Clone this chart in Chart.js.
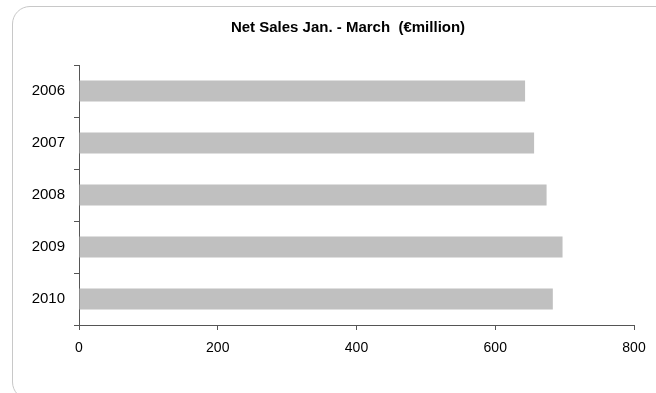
<!DOCTYPE html>
<html>
<head>
<meta charset="utf-8">
<script src="https://cdn.jsdelivr.net/npm/chart.js@4"></script>
<style>
  html, body { margin: 0; padding: 0; background: #fff; overflow: hidden; }
  #wrap { position: relative; width: 656px; height: 393px; overflow: hidden; }
  #frame {
    position: absolute; left: 12px; top: 6px; width: 680px; height: 394px;
    border: 1px solid #c8c8c8; border-radius: 18px; box-sizing: border-box;
  }
  canvas { position: absolute; left: 0; top: 0; }
</style>
</head>
<body>
<div id="wrap">
  <div id="frame"></div>
  <canvas id="myChart" width="656" height="393"></canvas>
</div>
<script>
const years = ["2006", "2007", "2008", "2009", "2010"];
const netSales = [643, 656, 674, 697, 683];
const xTicks = [0, 200, 400, 600, 800];

// title sits a bit right of the canvas centre in the original
const shiftTitle = {
  id: 'shiftTitle',
  afterLayout(chart) {
    if (chart.titleBlock) chart.titleBlock.left = 62;
  }
};

const ctx = document.getElementById('myChart');

new Chart(ctx, {
  type: 'bar',
  data: {
    labels: years,
    datasets: [{
      label: 'Net Sales',
      data: netSales,
      backgroundColor: '#c0c0c0',
      borderWidth: 0,
      barPercentage: 0.4,
      categoryPercentage: 1
    }]
  },
  options: {
    indexAxis: 'y',
    responsive: false,
    animation: false,
    layout: { padding: { left: 0, right: 22, top: 0, bottom: 0 } },
    plugins: {
      legend: { display: false },
      tooltip: { enabled: false },
      title: {
        display: true,
        text: 'Net Sales Jan. - March  (\u20ACmillion)',
        color: '#000',
        font: { family: 'Liberation Sans, Arial', size: 15, weight: 'bold', lineHeight: 1.2 },
        padding: { top: 19, bottom: 28 }
      }
    },
    scales: {
      x: {
        min: 0,
        max: 800,
        afterBuildTicks: (scale) => { scale.ticks = xTicks.map(v => ({ value: v })); },
        afterFit: (scale) => { scale.height = 68; },
        grid: { drawOnChartArea: false, color: '#555', tickLength: 5 },
        border: { color: '#555', width: 1 },
        ticks: {
          color: '#000',
          padding: 10,
          maxRotation: 0,
          font: { family: 'Liberation Sans, Arial', size: 14 }
        }
      },
      y: {
        afterFit: (scale) => { scale.width = 79; },
        grid: { drawOnChartArea: false, color: '#555', tickLength: 5, offset: true },
        border: { color: '#555', width: 1 },
        ticks: {
          color: '#000',
          padding: 9,
          font: { family: 'Liberation Sans, Arial', size: 15 }
        }
      }
    }
  },
  plugins: [shiftTitle]
});
</script>
</body>
</html>
